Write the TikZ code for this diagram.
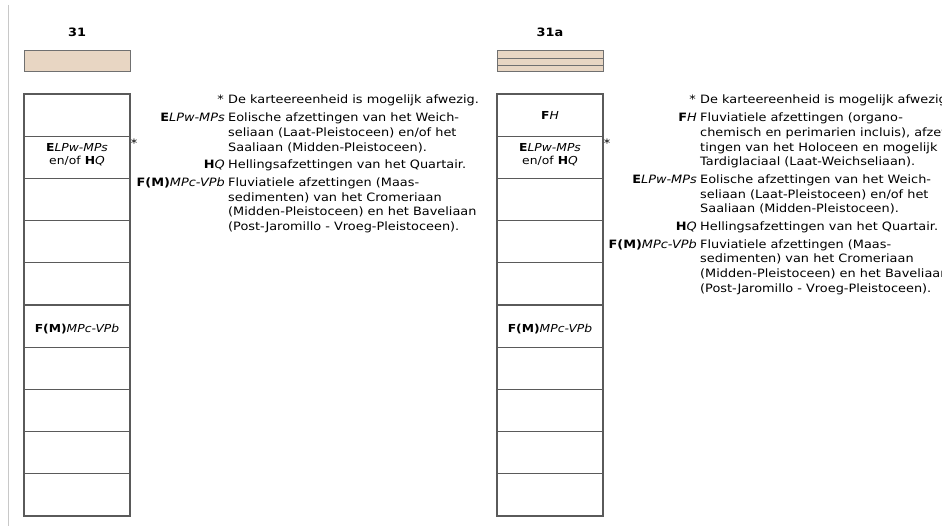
\documentclass[tikz,border=0pt]{standalone}
\usepackage{fontspec}
\setmainfont[FakeStretch=1.12]{DejaVu Sans}
\definecolor{swfill}{HTML}{E8D6C3}
\definecolor{swline}{HTML}{707070}
\definecolor{cellline}{HTML}{5A5A5A}
\definecolor{vlinecol}{HTML}{C8C8C8}
\newcommand\lgfont{\fontsize{11.5}{14}\selectfont}
\newcommand\bxfont{\fontsize{11}{13}\selectfont}
\newcommand\ttlfont{\fontsize{11.5}{14}\selectfont}
\begin{document}
\begin{tikzpicture}[x=1pt,y=-1pt,
  cell/.style={draw=cellline,line width=1.1pt},
  swatch/.style={draw=swline,fill=swfill,line width=1pt},
  lkey/.style={font=\lgfont,inner sep=0pt,anchor=base east},
  ldesc/.style={font=\lgfont,inner sep=0pt,anchor=base west},
  boxlbl/.style={font=\bxfont,align=center,inner sep=0pt},
  coltitle/.style={font=\ttlfont\bfseries,inner sep=0pt},
  star/.style={font=\lgfont,inner sep=0pt}]
\useasboundingbox (0,0) rectangle (942,526);
\clip (0,0) rectangle (942,526);
\fill[white] (0,0) rectangle (942,526);
\draw[vlinecol,line width=1pt] (8,5) -- (8,526);
% line positions
\pgfmathsetmacro\b{104}
\pgfmathsetmacro\p{14.7}
\pgfmathsetmacro\g{3}
% ---------- column 31 ----------
\node[coltitle] (t1) at (77,32) {31};
\draw[swatch] (24,51) rectangle (130,72);
\foreach \i in {0,...,9} {\draw[cell] (24,{94+\i*42.2}) rectangle (130,{94+(\i+1)*42.2});}
\node[boxlbl] (c1e) at (77,154.5) {\textbf{E}\textit{LPw-MPs}\\en/of \textbf{H}\textit{Q}};
\node[boxlbl] (c1f) at (77,329) {\textbf{F(M)}\textit{MPc-VPb}};
\node[star] (s1) at (134,143) {*};
% legend 31
\pgfmathsetmacro\la{\b}
\pgfmathsetmacro\lb{\la+\p+\g}
\pgfmathsetmacro\lc{\lb+\p}
\pgfmathsetmacro\ld{\lc+\p}
\pgfmathsetmacro\le{\ld+\p+\g}
\pgfmathsetmacro\lf{\le+\p+\g}
\pgfmathsetmacro\lg{\lf+\p}
\pgfmathsetmacro\lh{\lg+\p}
\pgfmathsetmacro\li{\lh+\p}
\node[lkey]  (k1a) at (224,\la) {*};
\node[ldesc] (d1a) at (228,\la) {De karteereenheid is mogelijk afwezig.};
\node[lkey]  (k1b) at (225,\lb) {\textbf{E}\textit{LPw-MPs}};
\node[ldesc] (d1b) at (228,\lb) {Eolische afzettingen van het Weich-};
\node[ldesc] (d1c) at (228,\lc) {seliaan (Laat-Pleistoceen) en/of het};
\node[ldesc] (d1d) at (228,\ld) {Saaliaan (Midden-Pleistoceen).};
\node[lkey]  (k1e) at (225,\le) {\textbf{H}\textit{Q}};
\node[ldesc] (d1e) at (228,\le) {Hellingsafzettingen van het Quartair.};
\node[lkey]  (k1f) at (225,\lf) {\textbf{F(M)}\textit{MPc-VPb}};
\node[ldesc] (d1f) at (228,\lf) {Fluviatiele afzettingen (Maas-};
\node[ldesc] (d1g) at (228,\lg) {sedimenten) van het Cromeriaan};
\node[ldesc] (d1h) at (228,\lh) {(Midden-Pleistoceen) en het Baveliaan};
\node[ldesc] (d1i) at (228,\li) {(Post-Jaromillo - Vroeg-Pleistoceen).};
% ---------- column 31a ----------
\node[coltitle] (t2) at (550,32) {31a};
\draw[swatch] (497,51) rectangle (603,72);
\draw[swline,line width=1pt] (497,58.3) -- (603,58.3) (497,65.3) -- (603,65.3);
\foreach \i in {0,...,9} {\draw[cell] (497,{94+\i*42.2}) rectangle (603,{94+(\i+1)*42.2});}
\node[boxlbl] (c2h) at (550,115) {\textbf{F}\textit{H}};
\node[boxlbl] (c2e) at (550,154.5) {\textbf{E}\textit{LPw-MPs}\\en/of \textbf{H}\textit{Q}};
\node[boxlbl] (c2f) at (550,329) {\textbf{F(M)}\textit{MPc-VPb}};
\node[star] (s2) at (607,143) {*};
% legend 31a
\pgfmathsetmacro\ma{\b}
\pgfmathsetmacro\mb{\ma+\p+\g}
\pgfmathsetmacro\mc{\mb+\p}
\pgfmathsetmacro\md{\mc+\p}
\pgfmathsetmacro\me{\md+\p}
\pgfmathsetmacro\mf{\me+\p+\g}
\pgfmathsetmacro\mg{\mf+\p}
\pgfmathsetmacro\mh{\mg+\p}
\pgfmathsetmacro\mi{\mh+\p+\g}
\pgfmathsetmacro\mj{\mi+\p+\g}
\pgfmathsetmacro\mk{\mj+\p}
\pgfmathsetmacro\ml{\mk+\p}
\pgfmathsetmacro\mm{\ml+\p}
\node[lkey]  (k2a) at (696,\ma) {*};
\node[ldesc] (d2a) at (700,\ma) {De karteereenheid is mogelijk afwezig.};
\node[lkey]  (k2b) at (697,\mb) {\textbf{F}\textit{H}};
\node[ldesc] (d2b) at (700,\mb) {Fluviatiele afzettingen (organo-};
\node[ldesc] (d2c) at (700,\mc) {chemisch en perimarien incluis), afzet-};
\node[ldesc] (d2d) at (700,\md) {tingen van het Holoceen en mogelijk};
\node[ldesc] (d2e) at (700,\me) {Tardiglaciaal (Laat-Weichseliaan).};
\node[lkey]  (k2f) at (697,\mf) {\textbf{E}\textit{LPw-MPs}};
\node[ldesc] (d2f) at (700,\mf) {Eolische afzettingen van het Weich-};
\node[ldesc] (d2g) at (700,\mg) {seliaan (Laat-Pleistoceen) en/of het};
\node[ldesc] (d2h) at (700,\mh) {Saaliaan (Midden-Pleistoceen).};
\node[lkey]  (k2i) at (697,\mi) {\textbf{H}\textit{Q}};
\node[ldesc] (d2i) at (700,\mi) {Hellingsafzettingen van het Quartair.};
\node[lkey]  (k2j) at (697,\mj) {\textbf{F(M)}\textit{MPc-VPb}};
\node[ldesc] (d2j) at (700,\mj) {Fluviatiele afzettingen (Maas-};
\node[ldesc] (d2k) at (700,\mk) {sedimenten) van het Cromeriaan};
\node[ldesc] (d2l) at (700,\ml) {(Midden-Pleistoceen) en het Baveliaan};
\node[ldesc] (d2m) at (700,\mm) {(Post-Jaromillo - Vroeg-Pleistoceen).};
\end{tikzpicture}
\end{document}
